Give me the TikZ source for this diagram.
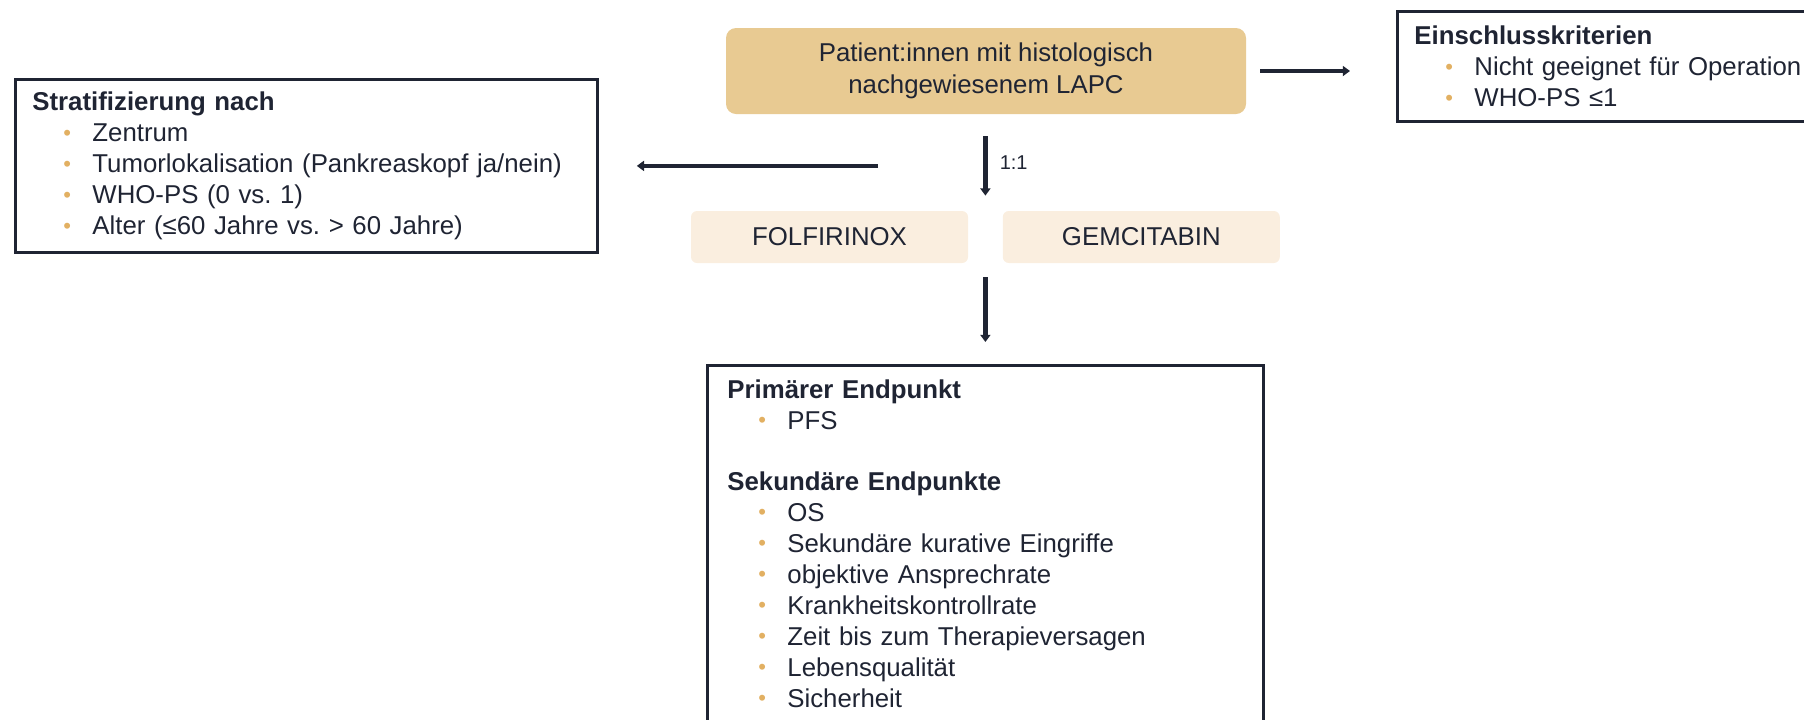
\documentclass[tikz,border=0pt]{standalone}
\usepackage{fontspec}
\setmainfont{Liberation Sans}
\usetikzlibrary{positioning,arrows.meta}

\definecolor{ink}{HTML}{1F2433}
\definecolor{sand}{HTML}{E8CA92}
\definecolor{cream}{HTML}{FAEEDF}
\definecolor{dot}{HTML}{E2B062}

% one bulleted line in a list box
\newcommand\itm[1]{\\\hspace*{15.5pt}\makebox[14.5pt][l]{\raisebox{0.6pt}{\textcolor{dot}{\fontsize{11}{11}\selectfont\textbullet}}}#1}

\begin{document}
\frenchspacing
\begin{tikzpicture}[x=0.5pt,y=-0.5pt,>={Triangle[width=5pt,length=3.6pt]},
    every node/.style={text=ink,font=\fontsize{12.9}{15.5}\selectfont},
    list box/.style={draw=ink,line width=1.4pt,align=left,anchor=north west,inner xsep=8.5pt},
    arm node/.style={fill=cream,rounded corners=3pt,minimum width=138.5pt,minimum height=26pt},
    arrow/.style={->,draw=ink,line width=2.4pt}]
    \clip (0,0) rectangle (1804,719);

    \node[fill=sand,rounded corners=5pt,minimum width=260pt,minimum height=43pt,align=center] (patient) at (986,71)
        {Patient:innen mit histologisch\\[0.5pt]nachgewiesenem LAPC};
    \node[list box,text width=240pt,minimum height=55pt] (einschluss) at (1396,10)
        {\textbf{Einschlusskriterien}\itm{Nicht geeignet für Operation}\itm{WHO-PS ≤1}};
    \node[list box,text width=274pt,minimum height=86.5pt] (strat) at (14,78)
        {\textbf{Stratifizierung nach}\itm{Zentrum}\itm{Tumorlokalisation (Pankreaskopf ja/nein)}%
         \itm{WHO-PS (0 vs. 1)}\itm{Alter (≤60 Jahre vs. > 60 Jahre)}};
    \node[arm node] (folfirinox) at (829.5,237) {FOLFIRINOX};
    \node[arm node] (gemcitabin) [right=17pt of folfirinox] {GEMCITABIN};
    \node[list box,text width=258pt,inner xsep=10pt,inner ysep=7pt] (endpunkte) at (706,364)
        {\textbf{Primärer Endpunkt}\itm{PFS}\\[15pt]%
         \textbf{Sekundäre Endpunkte}\itm{OS}\itm{Sekundäre kurative Eingriffe}%
         \itm{objektive Ansprechrate}\itm{Krankheitskontrollrate}%
         \itm{Zeit bis zum Therapieversagen}\itm{Lebensqualität}\itm{Sicherheit}\\[8pt]};

    \path (folfirinox) -- coordinate[midway] (arms) (gemcitabin);

    % connectors
    \draw[arrow,shorten <=7pt,shorten >=23pt] (patient.east) -- (patient.east -| einschluss.west);
    \draw[arrow,shorten <=54pt,shorten >=19pt] (patient.south |- strat.east) -- (strat.east);
    \draw[arrow,shorten <=11pt,shorten >=7.5pt] (arms |- patient.south) -- (arms |- folfirinox.north)
        node[midway,right,inner sep=0pt,xshift=6pt,font=\fontsize{10}{12}\selectfont] {1:1};
    \draw[arrow,shorten <=7pt,shorten >=11pt] (arms |- folfirinox.south) -- (arms |- endpunkte.north);
\end{tikzpicture}
\end{document}
